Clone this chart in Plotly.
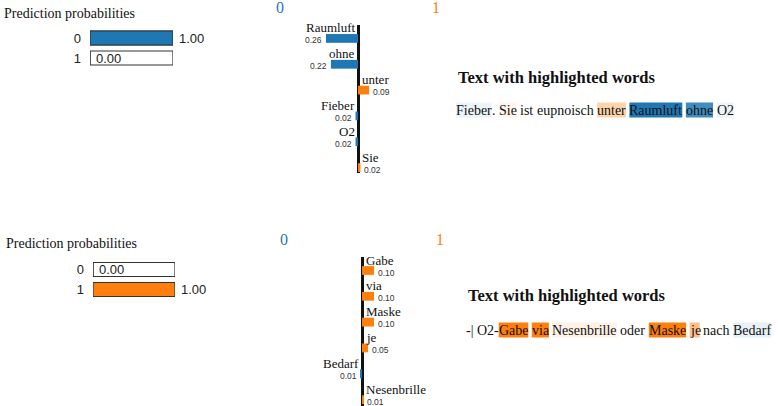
import re
import plotly.graph_objects as go

W, H = 778, 406
BLUE = "#1f77b4"
ORANGE = "#ff7f0e"
BLUE_RGB = (31, 119, 180)
ORANGE_RGB = (255, 127, 14)
SERIF = "Liberation Serif, Times New Roman, serif"
SANS = "Liberation Sans, Arial, sans-serif"

# ---------------- data ----------------
class_names = ["0", "1"]

probs_a = [1.00, 0.00]
features_a = ["Raumluft", "ohne", "unter", "Fieber", "O2", "Sie"]
weights_a = [-0.26, -0.22, 0.09, -0.02, -0.02, 0.02]
text_a = "Fieber. Sie ist eupnoisch unter Raumluft ohne O2"

probs_b = [0.00, 1.00]
features_b = ["Gabe", "via", "Maske", "je", "Bedarf", "Nesenbrille"]
weights_b = [0.10, 0.10, 0.10, 0.05, -0.01, 0.01]
text_b = "-| O2-Gabe via Nesenbrille oder Maske je nach Bedarf"


# ---------------- helpers ----------------
def px(x):
    return x / W


def py(y):
    return 1 - y / H


# Times-compatible advance widths (per 1000 em)
TW = {" ": 250, ".": 250, "-": 333, "|": 200, "2": 500, "B": 667, "F": 556,
      "G": 722, "M": 889, "N": 722, "O": 722, "R": 667, "S": 556,
      "a": 444, "b": 500, "c": 444, "d": 500, "e": 444, "f": 333, "h": 500,
      "i": 278, "j": 278, "k": 500, "l": 278, "m": 778, "n": 500, "o": 500,
      "p": 500, "r": 333, "s": 389, "t": 278, "u": 500, "v": 500}


def tw(s, size):
    return sum(TW.get(c, 500) for c in s) * size / 1000.0


fig = go.Figure()
annotations = []
shapes = []


def prob_panel(probs, xa, ya, xdom, ydom, title_xy):
    xs = "x" if xa == 1 else f"x{xa}"
    ys = "y" if ya == 1 else f"y{ya}"
    fig.add_trace(go.Bar(x=[1] * len(class_names), y=class_names, orientation="h",
                         xaxis=xs, yaxis=ys, width=0.7,
                         marker=dict(color="white", line=dict(color="#333", width=1.2)),
                         hoverinfo="skip", showlegend=False))
    fig.add_trace(go.Bar(x=probs, y=class_names, orientation="h",
                         xaxis=xs, yaxis=ys, width=0.7,
                         marker=dict(color=[BLUE, ORANGE], line=dict(color="#333", width=1.2)),
                         hoverinfo="skip", showlegend=False))
    kx = "xaxis" if xa == 1 else f"xaxis{xa}"
    ky = "yaxis" if ya == 1 else f"yaxis{ya}"
    fig.layout[kx] = dict(domain=[px(xdom[0]), px(xdom[1])], range=[0, 1], anchor=ys,
                          showgrid=False, zeroline=False, showticklabels=False,
                          showline=False, ticks="", fixedrange=True)
    fig.layout[ky] = dict(domain=[py(ydom[1]), py(ydom[0])], anchor=xs, type="category",
                          range=[1.5, -0.5], showgrid=False, zeroline=False, ticks="",
                          showline=False, ticklabelstandoff=8,
                          tickfont=dict(family=SANS, size=13, color="#222"), fixedrange=True)
    for c, p in zip(class_names, probs):
        annotations.append(dict(x=p, y=c, xref=xs, yref=ys, text=f"{p:.2f}",
                                showarrow=False, xanchor="left", yanchor="middle",
                                xshift=4, font=dict(family=SANS, size=13, color="#222")))
    annotations.append(dict(x=px(title_xy[0]), y=py(title_xy[1]), xref="paper", yref="paper",
                            text="Prediction probabilities", showarrow=False,
                            xanchor="left", yanchor="middle",
                            font=dict(family=SERIF, size=14, color="#111")))


def expl_panel(feats, weights, xa, ya, xdom, ydom, half, yrange, header_y):
    xs = f"x{xa}"
    ys = f"y{ya}"
    cols = [BLUE if w < 0 else ORANGE for w in weights]
    fig.add_trace(go.Bar(x=weights, y=feats, orientation="h", xaxis=xs, yaxis=ys,
                         width=0.34, marker=dict(color=cols, line=dict(width=0)),
                         hoverinfo="skip", showlegend=False))
    fig.layout[f"xaxis{xa}"] = dict(domain=[px(xdom[0]), px(xdom[1])], range=[-half, half],
                                    anchor=ys, showgrid=False, zeroline=True,
                                    zerolinecolor="#111", zerolinewidth=2.5,
                                    showticklabels=False, showline=False, ticks="",
                                    fixedrange=True)
    fig.layout[f"yaxis{ya}"] = dict(domain=[py(ydom[1]), py(ydom[0])], anchor=xs,
                                    type="category", categoryarray=feats,
                                    range=yrange, showgrid=False, zeroline=False,
                                    showticklabels=False, showline=False, ticks="",
                                    fixedrange=True)
    for f, w in zip(feats, weights):
        neg = w < 0
        annotations.append(dict(x=0, y=f, xref=xs, yref=ys, text=f, showarrow=False,
                                xanchor="right" if neg else "left", yanchor="middle",
                                xshift=-1.5 if neg else 1.5, yshift=10.5,
                                font=dict(family=SERIF, size=13, color="#111")))
        annotations.append(dict(x=w, y=f, xref=xs, yref=ys, text=f"{abs(w):.2f}",
                                showarrow=False, xanchor="right" if neg else "left",
                                yanchor="middle", xshift=-2 if neg else 2, yshift=-2,
                                font=dict(family=SANS, size=8.5, color="#333")))
    for c, xx, col in zip(class_names, xdom, [BLUE, ORANGE]):
        annotations.append(dict(x=px(xx), y=py(header_y), xref="paper", yref="paper",
                                text=c, showarrow=False, xanchor="center", yanchor="middle",
                                font=dict(family=SERIF, size=16, color=col)))


def text_panel(text, feats, weights, x0, head_y, sent_y, size=14):
    annotations.append(dict(x=px(x0), y=py(head_y), xref="paper", yref="paper",
                            text="<b>Text with highlighted words</b>", showarrow=False,
                            xanchor="left", yanchor="middle",
                            font=dict(family=SERIF, size=16.5, color="#111")))
    wmap = dict(zip(feats, weights))
    mx = max(abs(w) for w in weights)
    x = x0
    for tok in re.findall(r"\w+|[^\w\s]+|\s+", text):
        wd = tw(tok, size)
        if not tok.isspace():
            if tok in wmap:
                a = abs(wmap[tok]) / mx
                r, g, b = BLUE_RGB if wmap[tok] < 0 else ORANGE_RGB
                shapes.append(dict(type="rect", xref="paper", yref="paper",
                                   x0=px(x), x1=px(x + wd), y0=py(sent_y + 7.5),
                                   y1=py(sent_y - 7.5), line=dict(width=0),
                                   fillcolor=f"rgba({r},{g},{b},{a:.3f})", layer="below"))
            annotations.append(dict(x=px(x), y=py(sent_y), xref="paper", yref="paper",
                                    text=tok, showarrow=False, xanchor="left",
                                    yanchor="middle", borderpad=0, borderwidth=0,
                                    font=dict(family=SERIF, size=size, color="#111")))
        x += wd


# ---------------- panels ----------------
prob_panel(probs_a, 1, 1, (90, 173), (28, 68), (2, 13))
expl_panel(features_a, weights_a, 2, 2, (280, 436), (25, 173), 0.634, [5.21, -0.52], 8)
text_panel(text_a, features_a, weights_a, 456, 77, 110)

prob_panel(probs_b, 3, 3, (93, 175), (259.5, 299.5), (4, 243))
expl_panel(features_b, weights_b, 4, 4, (284, 440), (257, 406), 0.65, [5.25, -0.523], 239)
text_panel(text_b, features_b, weights_b, 466, 295, 330)

fig.update_layout(width=W, height=H, margin=dict(l=0, r=0, t=0, b=0), autosize=False,
                  paper_bgcolor="white", plot_bgcolor="rgba(0,0,0,0)",
                  barmode="overlay", showlegend=False,
                  annotations=annotations, shapes=shapes)

fig.write_html("out.html", config={"displayModeBar": False})
